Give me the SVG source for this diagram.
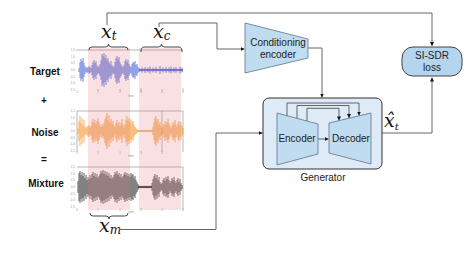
<svg xmlns="http://www.w3.org/2000/svg" width="475" height="258" viewBox="0 0 475 258">
<style>
.lbl{font-family:"Liberation Sans",Arial,sans-serif;font-weight:bold;font-size:10px;text-anchor:middle;fill:#111}
.t{font-family:"Liberation Sans",Arial,sans-serif;font-size:10px;text-anchor:middle;fill:#222}
.m{font-family:"DejaVu Serif","Liberation Serif",serif;font-style:italic;font-size:19px;fill:#111}
.tick{font-family:"Liberation Sans",Arial,sans-serif;font-size:3px;fill:#999}
.tr{text-anchor:end}
.tc{text-anchor:middle}
.ax{fill:none;stroke:#888;stroke-width:0.6}
.brace{fill:none;stroke:#333;stroke-width:0.9}
.con{fill:none;stroke:#666;stroke-width:1}
.skip{fill:none;stroke:#555;stroke-width:0.9}
.trap{fill:#c0dcf0;stroke:#6d8096;stroke-width:0.9}
.band{fill:#e07080;fill-opacity:0.22}
.wave{fill:none;stroke-width:0.85}
</style>
<defs>
<marker id="arr" viewBox="0 0 10 10" refX="10" refY="5" markerWidth="4" markerHeight="4" markerUnits="userSpaceOnUse" orient="auto">
<path d="M0,0 L10,5 L0,10 z" fill="#111"/>
</marker>
</defs>
<rect width="475" height="258" fill="#fff"/>

<g id="signal-labels">
<text class="lbl" x="45" y="75">Target</text>
<text class="lbl" x="44" y="104">+</text>
<text class="lbl" x="45" y="136">Noise</text>
<text class="lbl" x="44" y="163">=</text>
<text class="lbl" x="46" y="187">Mixture</text>
</g>

<g id="target-plot">
<path class="ax" d="M76,50H183"/>
<g class="tick tr">
<text x="75" y="51">1.5</text><text x="75" y="57.5">1.0</text><text x="75" y="64">0.5</text><text x="75" y="71">0.0</text><text x="75" y="77.5">-0.5</text><text x="75" y="84">-1.0</text><text x="75" y="91">-1.5</text>
</g>
<g class="tick tc">
<text x="77" y="93">0</text><text x="98" y="93">1</text><text x="120" y="93">2</text><text x="141" y="93">3</text><text x="162" y="93">4</text><text x="183" y="93">5</text><text x="131" y="97">time</text>
</g>
<path d="M98,89v2M120,89v2M141,88v4M162,89v2M183,88v4" stroke="#888" stroke-width="0.5"/>
<path class="wave" stroke="#5a74dc" d="M79,68v4M80,62v16M81,59v22M82,61v18M83,58v24M84,63v14M85,66v8M86,68v4M87,67v6M88,68v4M89,66v8M90,67v6M91,68v4M92,65v10M93,62v16M94,60v20M95,63v14M96,61v18M97,65v10M98,67v6M99,66v8M100,64v12M101,60v20M102,54v32M103,56v28M104,53v34M105,58v24M106,55v30M107,60v20M108,58v24M109,62v16M110,64v12M111,61v18M112,65v10M113,67v6M114,66v8M115,62v16M116,58v24M117,56v28M118,59v22M119,57v26M120,62v16M121,64v12M122,66v8M123,67v6M124,65v10M125,61v18M126,59v22M127,62v16M128,60v20M129,64v12M130,66v8M131,67v6M132,64v12M133,62v16M134,63v14M135,61v18M136,65v10M137,64v12M138,67v6M139,68v4M142,67.5v5M145,67v6M148,67.5v5M150,66.5v7M153,67.5v5M156,67v6M160,66v8M163,67.5v5M166,67v6M169,67.5v5M171,66.5v7M174,67.5v5M176,67v6M180,66.5v7M182,67.5v5"/>
<rect x="139" y="68.9" width="44" height="2.2" fill="#5a74dc"/>
</g>

<g id="noise-plot">
<path class="ax" d="M77,152V111H183V152M162,111V152"/>
<g class="tick tr">
<text x="75" y="112">1.5</text><text x="75" y="118.5">1.0</text><text x="75" y="125">0.5</text><text x="75" y="132">0.0</text><text x="75" y="138.5">-0.5</text><text x="75" y="145">-1.0</text><text x="75" y="152">-1.5</text>
</g>
<g class="tick tc">
<text x="77" y="154">0</text><text x="98" y="154">1</text><text x="120" y="154">2</text><text x="141" y="154">3</text><text x="162" y="154">4</text><text x="131" y="157">time</text>
</g>
<path class="wave" stroke="#f5a040" d="M78,128v6M79,121v20M80,116v30M81,123v16M82,118v26M83,125v12M84,120v22M85,127v8M86,128v6M87,126v10M88,127v8M89,125v12M90,128v6M91,126v10M92,122v18M93,119v24M94,123v16M95,120v22M96,124v14M97,121v20M98,118v26M99,122v18M100,125v12M101,127v8M102,124v14M103,126v10M104,123v16M105,119v24M106,116v30M107,113v36M108,120v22M109,115v32M110,122v18M111,119v24M112,124v14M113,121v20M114,125v12M115,127v8M116,123v16M117,120v22M118,124v14M119,122v18M120,126v10M121,123v16M122,119v24M123,125v12M124,127v8M125,124v14M126,120v22M127,116v30M128,121v20M129,118v26M130,122v18M131,119v24M132,123v16M133,121v20M134,125v12M135,127v8M136,128v6M137,129v4M153,127v8M154,122v18M155,118v26M156,116v30M157,121v20M158,119v24M159,124v14M160,122v18M161,126v10M162,128v6M163,127v8M164,124v14M165,121v20M166,125v12M167,122v18M168,119v24M169,123v16M170,126v10M171,128v6M172,125v12M173,122v18M174,124v14M175,120v22M176,125v12M177,127v8M178,123v16M179,121v20M180,125v12M181,122v18M182,126v10M183,128v6"/>
<rect x="137" y="130.3" width="16" height="1.4" fill="#f5a040"/>
</g>

<g id="mixture-plot">
<path class="ax" d="M77,167H183V210"/>
<g class="tick tr">
<text x="75" y="168">1.5</text><text x="75" y="174.5">1.0</text><text x="75" y="181">0.5</text><text x="75" y="188">0.0</text><text x="75" y="194.5">-0.5</text><text x="75" y="201">-1.0</text><text x="75" y="208">-1.5</text>
</g>
<g class="tick tc">
<text x="77" y="211">0</text><text x="98" y="211">1</text><text x="120" y="211">2</text><text x="141" y="211">3</text><text x="162" y="211">4</text><text x="183" y="211">5</text><text x="131" y="213">time</text>
</g>
<path class="wave" stroke="#454545" d="M78,181v12M79,173v28M80,171v32M81,175v24M82,172v30M83,176v22M84,173v28M85,178v18M86,175v24M87,180v14M88,177v20M89,179v16M90,175v24M91,178v18M92,174v26M93,172v30M94,176v22M95,173v28M96,177v20M97,174v26M98,178v18M99,176v22M100,174v26M101,171v32M102,173v28M103,170v34M104,174v26M105,171v32M106,175v24M107,172v30M108,176v22M109,173v28M110,178v18M111,175v24M112,179v16M113,177v20M114,175v24M115,172v30M116,174v26M117,171v32M118,175v24M119,173v28M120,177v20M121,174v26M122,178v18M123,176v22M124,174v26M125,172v30M126,175v24M127,173v28M128,176v22M129,174v26M130,177v20M131,173v28M132,175v24M133,174v26M134,178v18M135,176v22M136,180v14M137,182v10M138,184v6M152,183v8M153,179v16M154,176v22M155,174v26M156,178v18M157,175v24M158,180v14M159,177v20M160,182v10M161,184v6M162,183v8M163,180v14M164,178v18M165,181v12M166,177v20M167,179v16M168,176v22M169,180v14M170,183v8M171,181v12M172,178v18M173,180v14M174,177v20M175,181v12M176,183v8M177,180v14M178,178v18M179,182v10M180,179v16M181,183v8M182,185v4"/>
<rect x="138" y="185.9" width="14" height="2.2" fill="#454545"/>
</g>

<g id="segments">
<rect class="band" x="88" y="48" width="42" height="162"/>
<rect class="band" x="139" y="48" width="42" height="162"/>
<path class="brace" d="M89,50Q89,47 92,47H105.5Q108.5,47 108.5,44Q108.5,47 111.5,47H125Q128,47 128,50"/>
<path class="brace" d="M141,52Q141,47 144,47H158.5Q161.5,47 161.5,44Q161.5,47 164.5,47H179Q182,47 182,52"/>
<path class="brace" d="M90,213Q90,216 93,216H106Q109,216 109,219Q109,216 112,216H125Q128,216 128,213"/>
</g>

<g id="label-xt"><text class="m" x="101" y="38">x<tspan font-size="12" dy="2">t</tspan></text></g>
<g id="label-xc"><text class="m" x="153" y="38">x<tspan font-size="12" dy="2">c</tspan></text></g>
<g id="label-xm"><text class="m" x="99" y="232">x<tspan font-size="12" dy="2">m</tspan></text></g>
<g id="label-xhat"><text class="m" x="384" y="127" font-size="15">x̂<tspan font-size="10" dy="3">t</tspan></text></g>

<g id="connectors">
<path class="con" d="M107,25V13H432V46" marker-end="url(#arr)"/>
<path class="con" d="M159,27V23H217V49H244.5" marker-end="url(#arr)"/>
<path class="con" d="M308,48H322V97.5" marker-end="url(#arr)"/>
<path class="con" d="M119,229.5H216V133H262.5" marker-end="url(#arr)"/>
<path class="con" d="M382,133H432V77.5" marker-end="url(#arr)"/>
</g>

<g id="conditioning-encoder">
<path class="trap" d="M245,23L308,39V58L245,73Z"/>
<text class="t" x="278" y="46">Conditioning</text>
<text class="t" x="278" y="58">encoder</text>
</g>

<g id="generator">
<rect x="263" y="98" width="119" height="71" rx="6" fill="#deebf7" stroke="#333" stroke-width="1"/>
<text class="t" x="323" y="181">Generator</text>
<g id="encoder">
<path class="trap" d="M277,113L318,124V154L277,165Z"/>
<text class="t" x="297" y="142">Encoder</text>
</g>
<g id="decoder">
<path class="trap" d="M329,123L371,113V164L329,153Z"/>
<text class="t" x="351" y="142">Decoder</text>
</g>
<g id="generator-links">
<path class="skip" d="M318,139H328.5" marker-end="url(#arr)"/>
<path class="skip" d="M287,116V103H359V115.5" marker-end="url(#arr)"/>
<path class="skip" d="M297,118.4V105.5H349V118" marker-end="url(#arr)"/>
<path class="skip" d="M307,121V108.3H339V120.4" marker-end="url(#arr)"/>
</g>
</g>

<g id="si-sdr-loss">
<rect x="402" y="47" width="60" height="29" rx="11" fill="#b5d5ee" stroke="#444" stroke-width="1"/>
<text class="t" x="432" y="59">SI-SDR</text>
<text class="t" x="432" y="71">loss</text>
</g>
</svg>
